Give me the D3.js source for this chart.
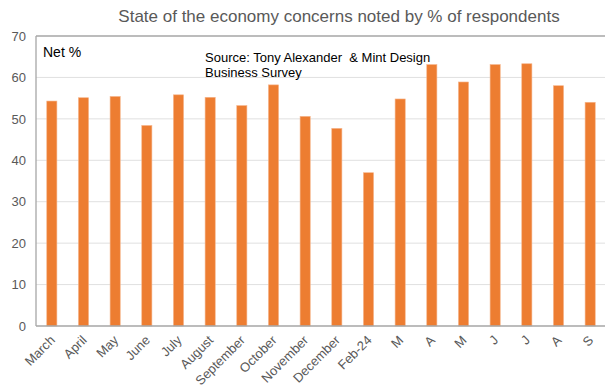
<!DOCTYPE html>
<html><head><meta charset="utf-8">
<script src="https://cdn.jsdelivr.net/npm/d3@7"></script>
<style>body{margin:0;background:#fff;}svg{display:block;}</style>
</head><body>
<script>
const categories = ["March","April","May","June","July","August","September","October","November","December","Feb-24","M","A","M","J","J","A","S"];
const values = [54.3,55.1,55.4,48.4,55.8,55.2,53.2,58.2,50.6,47.7,37.0,54.8,63.1,58.9,63.1,63.3,58.0,54.0];
const yTicks = [0,10,20,30,40,50,60,70];
const titleText = "State of the economy concerns noted by % of respondents";
const unitLabel = "Net %";
const sourceLines = ["Source: Tony Alexander  & Mint Design","Business Survey"];

const W = 605, H = 392;
const m = {left:36, top:36, right:-1, bottom:66};
const svg = d3.select("body").append("svg").attr("width",W).attr("height",H);
const font = "'Liberation Sans', Arial, sans-serif";

const x = d3.scaleBand().domain(d3.range(categories.length)).range([m.left, W - m.right]).paddingInner(0.68).paddingOuter(0.34);
const y = d3.scaleLinear().domain([0,70]).range([H - m.bottom, m.top]);

// gridlines
svg.append("g").selectAll("line").data(yTicks.filter(d=>d>0 && d<70)).join("line")
  .attr("x1", m.left).attr("x2", W).attr("y1", d=>y(d)).attr("y2", d=>y(d))
  .attr("stroke","#e0e0e0").attr("stroke-width",1);

// bars
svg.append("g").selectAll("rect").data(values).join("rect")
  .attr("x",(d,i)=>x(i)).attr("width",x.bandwidth())
  .attr("y",d=>y(d)).attr("height",d=>y(0)-y(d))
  .attr("fill","#ED7D31").attr("stroke","#f6b48a").attr("stroke-width",0.6);

// frame
svg.append("line").attr("x1",m.left).attr("x2",m.left).attr("y1",y(70)).attr("y2",y(0)).attr("stroke","#a6a6a6").attr("stroke-width",1.3);
svg.append("line").attr("x1",m.left).attr("x2",W).attr("y1",y(70)).attr("y2",y(70)).attr("stroke","#a6a6a6").attr("stroke-width",1.3);
svg.append("line").attr("x1",m.left).attr("x2",W).attr("y1",y(0)).attr("y2",y(0)).attr("stroke","#a6a6a6").attr("stroke-width",1.3);

// y axis labels
const yAxis = d3.axisLeft(y).tickValues(yTicks).tickSize(0).tickPadding(10);
const gy = svg.append("g").attr("transform",`translate(${m.left},0)`).call(yAxis);
gy.select(".domain").remove();
gy.selectAll("text").attr("font-family",font).attr("font-size","13px").attr("fill","#595959");

// x axis labels
const xAxis = d3.axisBottom(x).tickFormat(i=>categories[i]).tickSize(0).tickPadding(0);
const gx = svg.append("g").attr("transform",`translate(0,${y(0)})`).call(xAxis);
gx.select(".domain").remove();
gx.selectAll("text").attr("font-family",font).attr("font-size","13px").attr("fill","#595959")
  .attr("text-anchor","end").attr("dy",null).attr("y",0)
  .attr("transform","translate(4,15) rotate(-45)");

// title
svg.append("text").attr("x",339).attr("y",22).attr("text-anchor","middle")
  .attr("font-family",font).attr("font-size","17px").attr("fill","#595959").text(titleText);

svg.append("text").attr("x",43).attr("y",57).attr("font-family",font).attr("font-size","14px").attr("fill","#000").text(unitLabel);
svg.append("g").selectAll("text").data(sourceLines).join("text")
  .attr("x",205).attr("y",(d,i)=>62+i*15).attr("font-family",font).attr("font-size","13px").attr("fill","#000")
  .attr("xml:space","preserve").style("white-space","pre").text(d=>d);
</script>
</body></html>
